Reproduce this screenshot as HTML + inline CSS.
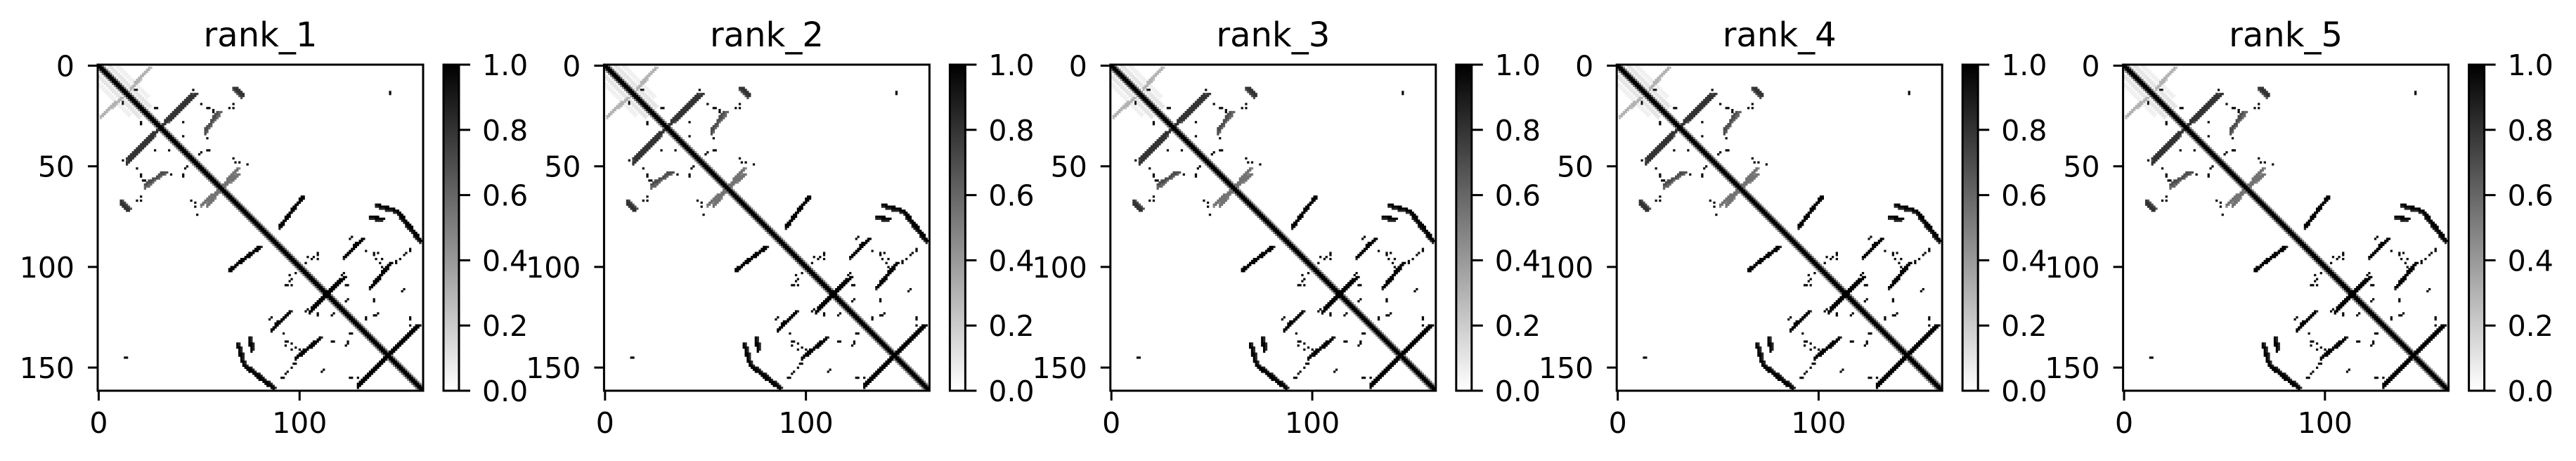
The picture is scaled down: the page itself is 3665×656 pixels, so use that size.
<!DOCTYPE html>
<html><head><meta charset="utf-8">
<style>
html,body{margin:0;padding:0;background:#fff;}
svg{display:block;font-family:"DejaVu Sans","Liberation Sans",sans-serif;}
</style></head>
<body>
<svg id="fig" width="3665" height="656" viewBox="0 0 3665 656" xmlns="http://www.w3.org/2000/svg">
<defs>
<linearGradient id="cbgrad" x1="0" y1="1" x2="0" y2="0">
<stop offset="0" stop-color="#ffffff"/><stop offset="1" stop-color="#000000"/>
</linearGradient>
</defs>
</svg>
<script>
// ---- data ----
const panelTitles = ["rank_1","rank_2","rank_3","rank_4","rank_5"];
const matrixSize = 162;
const xTickValues = [0, 100];
const yTickValues = [0, 50, 100, 150];
const cbTickValues = [0.0, 0.2, 0.4, 0.6, 0.8, 1.0];
// contact strands (row1,col1)->(row2,col2), value; symmetric matrix
const segR1 = [46, 24.5, 31.6, 11, 58.5, 69, 79.5, 95, 110, 120, 158, 69, 72, 75, 0, 0];
const segC1 = [14, 1.2, 53.2, 67.3, 23.4, 51, 90, 122, 135, 106, 129.4, 138, 148, 135, 5, 9];
const segR2 = [14, 16.4, 23.4, 14.6, 52.6, 53.8, 65.2, 85.7, 98, 105, 129, 72, 87, 76, 20, 15];
const segC2 = [48, 10.5, 59.6, 71.3, 32.7, 69, 101, 131, 145, 122, 158.6, 148, 160, 141, 25, 24];
const segV  = [0.8, 0.3, 0.6, 0.8, 0.7, 0.55, 1.0, 1.0, 1.0, 1.0, 1.0, 1.0, 1.0, 1.0, 0.1, 0.06];
// isolated contact dots
const dotR = [12.3,12.3,18.5,20.5,22,20.5,18.7,20.5,28,28,35,41.5,43,46,48,48.5,50,54,56.7,54,54,66.7,66.7,68.4,73.7,18,51,13.5,
  85.4,93.3,93.3,95.6,93.3,95.3,95.3,93.3,91.3,95.6,97.4,106,108.5,108.5,103,103.2,108.5,111.4,116,116,121,123,123,123,125.4,132.5,132.5,125.4,125.4,136.6,138,139.5,140.6,136.6,136.6,138.3,147.7,149.5,152,154.7,151,154.7,154.7,145];
const dotC = [18.7,46.8,50.9,55,57.3,65,67.3,28.7,21,41.5,42,55,51,67,70,73.7,44,21,22.8,41.5,35.7,18.7,20.5,48,49,12.3,18.7,144.7,
  126.4,137,139,141,108.9,107,104.2,152.7,155,149.8,148,96,94,96,98.4,122.1,124,152.2,124,137,104,108.9,117,138.7,132.9,126.4,92,86,155,93.7,96,98,100,117,124,124,97.8,96,93.7,92,111.8,126.4,129.4,13];
const dotV = 0.95;

// ---- build matrix ----
const N = matrixSize;
const M = [];
for (let i = 0; i < N; i++) { M.push(new Float32Array(N)); }
function setCell(r, c, v) {
  r = Math.round(r); c = Math.round(c);
  if (r < 0 || c < 0 || r >= N || c >= N) return;
  if (v > M[r][c]) M[r][c] = v;
  if (v > M[c][r]) M[c][r] = v;
}
for (let i = 0; i < N; i++) {
  for (let d = -1; d <= 1; d++) setCell(i, i + d, 1);
  setCell(i, i + 2, 0.5);
}
for (let k = 0; k < segR1.length; k++) {
  const dr = segR2[k] - segR1[k], dc = segC2[k] - segC1[k];
  const steps = Math.ceil(Math.max(Math.abs(dr), Math.abs(dc)) * 2) + 1;
  for (let s = 0; s <= steps; s++) {
    const t = s / steps;
    const r = segR1[k] + dr * t, c = segC1[k] + dc * t;
    setCell(r, c, segV[k]);
    setCell(r, c + 1, segV[k]);
    setCell(r + 1, c, segV[k] * 0.85);
  }
}
for (let k = 0; k < dotR.length; k++) setCell(dotR[k], dotC[k], dotV);

// ---- draw ----
const NS = "http://www.w3.org/2000/svg";
const svg = document.getElementById("fig");
function mk(tag, attrs, parent) {
  const e = document.createElementNS(NS, tag);
  for (const k in attrs) e.setAttribute(k, attrs[k]);
  parent.appendChild(e);
  return e;
}
const AX_L = 139, AX_T = 92, AX_W = 463, AX_H = 464, PANEL_DX = 720.4;
const CB_L = 631, CB_W = 22;
for (let p = 0; p < panelTitles.length; p++) {
  const ox = p * PANEL_DX;
  const g = mk("g", {transform: "translate(" + ox + ",0)"}, svg);
  
  
  const xs = v => AX_L + (v + 0.5) / N * AX_W;
  const ys = v => AX_T + (v + 0.5) / N * AX_H;
  const cw = AX_W / N, ch = AX_H / N;
  const hm = mk("g", {}, g);
  
  
  mk("rect", {x: AX_L, y: AX_T, width: AX_W, height: AX_H, fill: "#fff"}, hm);
  for (let r = 0; r < N; r++) for (let c = 0; c < N; c++) {
    const v = M[r][c];
    if (v < 0.02) continue;
    const gv = Math.round(255 * (1 - v));
    const cell = mk("rect", {x: (xs(c) - cw / 2).toFixed(2), y: (ys(r) - ch / 2).toFixed(2),
      width: (cw + 0.4).toFixed(2), height: (ch + 0.4).toFixed(2), fill: "rgb(" + gv + "," + gv + "," + gv + ")"}, hm);
    
    
  }
  const frame = mk("rect", {x: AX_L, y: AX_T, width: AX_W, height: AX_H, fill: "none", stroke: "#000", "stroke-width": 3}, g);
  
  
  const title = mk("text", {x: AX_L + AX_W / 2, y: 66, "font-size": 48, "text-anchor": "middle", fill: "#000"}, g);
  title.textContent = panelTitles[p];
  
  
  for (const t of yTickValues) {
    const y = ys(t);
    const tk = mk("line", {x1: AX_L - 14, x2: AX_L, y1: y, y2: y, stroke: "#000", "stroke-width": 3}, g);
    
    
    const lb = mk("text", {x: AX_L - 33, y: y + 15, "font-size": 41, "text-anchor": "end", fill: "#000"}, g);
    lb.textContent = String(t);
    
    
  }
  for (const t of xTickValues) {
    const x = xs(t);
    const tk = mk("line", {x1: x, x2: x, y1: AX_T + AX_H, y2: AX_T + AX_H + 14, stroke: "#000", "stroke-width": 3}, g);
    
    
    const lb = mk("text", {x: x, y: 616, "font-size": 41, "text-anchor": "middle", fill: "#000"}, g);
    lb.textContent = String(t);
    
    
  }
  const cb = mk("rect", {x: CB_L, y: AX_T, width: CB_W, height: AX_H, fill: "url(#cbgrad)", stroke: "#000", "stroke-width": 3}, g);
  
  
  for (const v of cbTickValues) {
    const y = AX_T + AX_H - v * AX_H;
    const tk = mk("line", {x1: CB_L + CB_W, x2: CB_L + CB_W + 16, y1: y, y2: y, stroke: "#000", "stroke-width": 3}, g);
    
    
    const lb = mk("text", {x: CB_L + CB_W + 33, y: y + 15, "font-size": 41, "text-anchor": "start", fill: "#000"}, g);
    lb.textContent = v.toFixed(1);
    
    
  }
}
</script>
</body></html>
